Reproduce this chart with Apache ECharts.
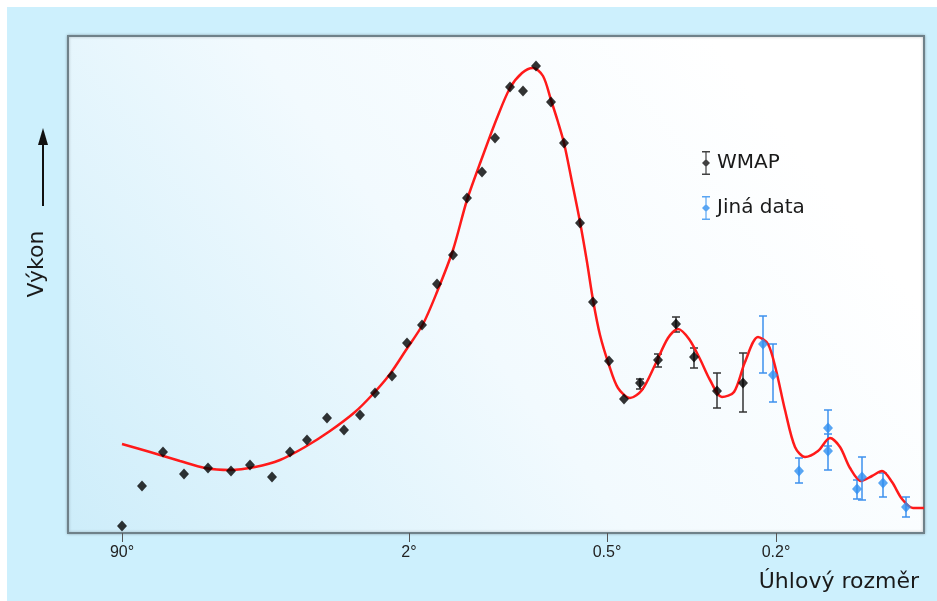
<!DOCTYPE html>
<html>
<head>
<meta charset="utf-8">
<script src="https://cdn.jsdelivr.net/npm/echarts@6/dist/echarts.min.js"></script>
<style>
  html, body { margin: 0; padding: 0; background: #fff; }
  #chart { width: 937px; height: 601px; background: #cdf0fd; box-shadow: inset 7px 7px 0 #fff; }
</style>
</head>
<body>
<div id="chart"></div>
<script>
// x: position along the angular-scale axis, y: power (arbitrary units)
const tickPos = [54, 341, 539, 708];
const tickLabels = ['90°', '2°', '0.5°', '0.2°'];

// WMAP measurements
const wmapX = [54, 74, 95, 116, 140, 163, 182, 204, 222, 239, 259, 276, 292, 307, 324, 339, 354, 369, 385,
  399, 414, 427, 442, 455, 468, 483, 496, 512, 525, 541, 556, 572, 590, 608, 626, 649, 675];
const wmapY = [7, 47, 81, 59, 65, 62, 68, 56, 81, 93, 115, 103, 118, 140, 157, 190, 208, 249, 278,
  335, 361, 395, 446, 442, 467, 431, 390, 310, 231, 172, 134, 150, 173, 209, 176, 142, 150];
// WMAP error bars (only where visible)
const wmapErrX = [572, 590, 608, 626, 649, 675];
const wmapErrLo = [144, 166, 201, 165, 125, 121];
const wmapErrHi = [154, 179, 216, 185, 160, 180];

// other experiments
const otherX = [695, 705, 731, 760, 760, 794, 789, 815, 838];
const otherY = [189, 158, 62, 105, 82, 56, 44, 50, 26];
const otherErrLo = [160, 131, 50, 87, 63, 33, 34, 36, 16];
const otherErrHi = [217, 189, 75, 123, 99, 76, 53, 60, 36];

// model curve
const modelX = [54, 82, 112, 137, 162, 187, 212, 237, 262, 287, 305, 322, 338, 355, 369, 385, 399, 414, 429,
  442, 454, 465, 475, 483, 490, 496, 504, 512, 519, 525, 532, 541, 550, 562, 574, 587, 600, 610, 621, 632,
  642, 654, 666, 677, 690, 700, 708, 717, 727, 737, 750, 762, 772, 782, 793, 804, 814, 824, 834, 845, 856];
const modelY = [89, 81, 72, 65, 63, 66, 73, 86, 102, 121, 139, 159, 183, 209, 241, 283, 333, 375, 415,
  445, 460, 465, 457, 433, 411, 390, 351, 311, 271, 233, 198, 168, 145, 135, 143, 168, 195, 204, 194, 174,
  153, 136, 141, 171, 196, 189, 163, 123, 86, 76, 82, 95, 86, 65, 52, 57, 62, 51, 34, 25, 25];

const zip = (a, b) => a.map((v, i) => [v, b[i]]);
const zip3 = (a, b, c) => a.map((v, i) => [v, b[i], c[i]]);

const iconPath = 'path://M1,0H9V1.4H1Z M4.4,1.4H5.6V22.6H4.4Z M1,22.6H9V24H1Z M5,8L9,12L5,16L1,12Z';

function errorBars(color) {
  return function (params, api) {
    const top = api.coord([api.value(0), api.value(2)]);
    const bot = api.coord([api.value(0), api.value(1)]);
    const st = { stroke: color, lineWidth: 1.5 };
    return {
      type: 'group',
      children: [
        { type: 'line', shape: { x1: top[0], y1: top[1], x2: bot[0], y2: bot[1] }, style: st },
        { type: 'line', shape: { x1: top[0] - 4, y1: top[1], x2: top[0] + 4, y2: top[1] }, style: st },
        { type: 'line', shape: { x1: bot[0] - 4, y1: bot[1], x2: bot[0] + 4, y2: bot[1] }, style: st }
      ]
    };
  };
}

const chart = echarts.init(document.getElementById('chart'));
chart.setOption({
  animation: false,
  grid: {
    left: 68, top: 36, width: 856, height: 497,
    show: true,
    borderColor: '#6f8189',
    borderWidth: 2,
    shadowColor: 'rgba(0,0,0,0.25)',
    shadowBlur: 3,
    backgroundColor: new echarts.graphic.LinearGradient(0, 1, 0.75, 0, [
      { offset: 0, color: '#cdedfa' },
      { offset: 0.55, color: '#f2fafe' },
      { offset: 1, color: '#ffffff' }
    ])
  },
  legend: {
    orient: 'vertical',
    left: 697, top: 146,
    itemWidth: 10, itemHeight: 24, itemGap: 21,
    textStyle: { fontFamily: 'DejaVu Sans', fontSize: 20, color: '#1a1a1a', padding: [0, 0, 0, 1] },
    data: [
      { name: 'WMAP', icon: iconPath, itemStyle: { color: '#111' } },
      { name: 'Jiná data', icon: iconPath, itemStyle: { color: '#2f8ff0' } }
    ]
  },
  xAxis: {
    type: 'value', min: 0, max: 856,
    axisLine: { show: false },
    splitLine: { show: false },
    axisTick: { show: true, inside: false, length: 9, customValues: tickPos, lineStyle: { color: '#555', width: 1 } },
    axisLabel: {
      customValues: tickPos,
      formatter: v => tickLabels[tickPos.indexOf(v)],
      margin: 12,
      fontFamily: 'Liberation Sans', fontSize: 16, color: '#222'
    }
  },
  yAxis: {
    type: 'value', min: 0, max: 497,
    axisLine: { show: false }, axisTick: { show: false },
    axisLabel: { show: false }, splitLine: { show: false }
  },
  graphic: [
    {
      type: 'text', right: 18, top: 571,
      style: { text: 'Úhlový rozměr', font: '22px "DejaVu Sans"', fill: '#1a1a1a' }
    },
    {
      type: 'text', x: 37, y: 264, rotation: Math.PI / 2,
      style: { text: 'Výkon', font: '22px "DejaVu Sans"', fill: '#1a1a1a', align: 'center', verticalAlign: 'middle' }
    },
    { type: 'line', shape: { x1: 43, y1: 206, x2: 43, y2: 140 }, style: { stroke: '#111', lineWidth: 2 } },
    { type: 'polygon', shape: { points: [[43, 128], [48, 145], [38, 145]] }, style: { fill: '#111' } }
  ],
  series: [
    {
      name: 'model', type: 'line', data: zip(modelX, modelY),
      smooth: 0.3, showSymbol: false,
      lineStyle: { color: '#ff1a1a', width: 2.5 }, z: 3
    },
    {
      name: 'WMAP err', type: 'custom', renderItem: errorBars('#333'),
      data: zip3(wmapErrX, wmapErrLo, wmapErrHi), z: 2
    },
    {
      name: 'Jiná data err', type: 'custom', renderItem: errorBars('#3d90ee'),
      data: zip3(otherX, otherErrLo, otherErrHi), z: 2
    },
    {
      name: 'WMAP', type: 'scatter', data: zip(wmapX, wmapY),
      symbol: 'diamond', symbolSize: [10, 11], itemStyle: { color: '#000' }, z: 4
    },
    {
      name: 'Jiná data', type: 'scatter', data: zip(otherX, otherY),
      symbol: 'diamond', symbolSize: [10, 11], itemStyle: { color: '#2f8ff0' }, z: 4
    }
  ]
});
</script>
</body>
</html>
